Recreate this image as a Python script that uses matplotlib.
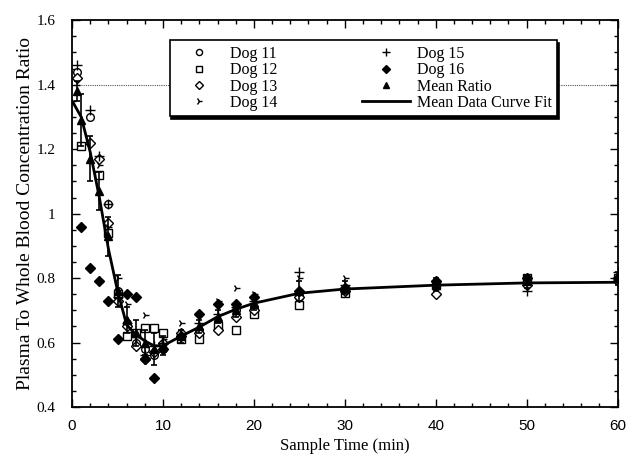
import numpy as np
import matplotlib
matplotlib.use("Agg")
import matplotlib.pyplot as plt
from matplotlib.ticker import MultipleLocator
from matplotlib.lines import Line2D

plt.rcParams['font.family'] = ['Liberation Serif', 'DejaVu Serif']

nan = np.nan
times = [0.5, 1, 2, 3, 4, 5, 6, 7, 8, 9, 10, 12, 14, 16, 18, 20, 25, 30, 40, 50, 60]

dog11 = [1.44, nan, 1.30, nan, 1.03, 0.76, 0.66, 0.60, 0.58, 0.56, 0.58, 0.62, 0.64, 0.66, 0.70, 0.71, 0.74, 0.77, 0.78, 0.79, 0.80]
dog12 = [nan, 1.21, nan, 1.12, 0.94, 0.75, 0.62, 0.63, 0.645, 0.645, 0.63, 0.61, 0.61, 0.65, 0.64, 0.69, 0.715, 0.755, 0.78, 0.80, 0.80]
dog13 = [1.42, nan, 1.22, 1.17, 0.97, 0.73, 0.65, 0.59, 0.55, 0.57, 0.60, 0.63, 0.63, 0.64, 0.68, 0.70, 0.74, 0.76, 0.75, 0.78, 0.79]
dog14 = [nan, nan, nan, 1.15, 0.96, 0.80, 0.72, nan, 0.685, nan, 0.61, 0.66, 0.69, 0.73, 0.77, 0.75, 0.80, 0.80, 0.79, 0.80, 0.81]
dog15 = [1.46, nan, 1.32, 1.18, 1.03, 0.74, 0.66, 0.62, 0.56, 0.59, 0.60, 0.62, 0.66, 0.69, 0.71, 0.73, 0.82, 0.78, 0.79, 0.76, 0.82]
dog16 = [nan, 0.96, 0.83, 0.79, 0.73, 0.61, 0.75, 0.74, 0.55, 0.49, 0.58, 0.62, 0.69, 0.72, 0.72, 0.74, 0.76, 0.77, 0.79, 0.80, 0.80]

mean_ratio = [1.38, 1.29, 1.17, 1.07, 0.93, 0.76, 0.67, 0.63, 0.60, 0.58, 0.59, 0.62, 0.65, 0.68, 0.70, 0.72, 0.76, 0.77, 0.78, 0.79, 0.80]
mean_err = [0.03, 0.08, 0.07, 0.06, 0.06, 0.05, 0.04, 0.04, 0.04, 0.05, 0.03, 0.02, 0.02, 0.02, 0.02, 0.02, 0.03, 0.02, 0.02, 0.02, 0.02]

curve_t = [0, 1, 2, 3, 4, 5, 6, 7, 8, 9, 10, 12, 14, 16, 18, 20, 25, 30, 40, 50, 60]
curve_v = [1.35, 1.30, 1.19, 1.05, 0.89, 0.76, 0.655, 0.625, 0.605, 0.59, 0.59, 0.62, 0.648, 0.68, 0.703, 0.722, 0.753, 0.766, 0.778, 0.785, 0.787]

ref_level = 1.40

fig = plt.figure(figsize=(6.38, 4.55), dpi=100)
ax = fig.add_axes([0.113, 0.1055, 0.855, 0.85])

ax.axhline(ref_level, color='#555555', lw=0.8, ls=(0, (1, 1)), zorder=1)

ms = 5.5
h = []
h.append(ax.plot(times, dog11, ls='none', marker='o', mfc='white', mec='black', ms=ms, mew=1.0, label='Dog 11', zorder=3)[0])
h.append(ax.plot(times, dog12, ls='none', marker='s', mfc='white', mec='black', ms=ms, mew=1.0, label='Dog 12', zorder=3)[0])
h.append(ax.plot(times, dog13, ls='none', marker='D', mfc='white', mec='black', ms=5, mew=1.0, label='Dog 13', zorder=3)[0])
h.append(ax.plot(times, dog14, ls='none', marker='4', color='black', ms=6, mew=1.0, label='Dog 14', zorder=3)[0])
h.append(ax.plot(times, dog15, ls='none', marker='+', color='black', ms=6.5, mew=1.0, label='Dog 15', zorder=3)[0])
h.append(ax.plot(times, dog16, ls='none', marker='D', color='black', ms=5, label='Dog 16', zorder=3)[0])
ax.errorbar(times, mean_ratio, yerr=mean_err, ls='none', marker='^', color='black', ms=6,
            elinewidth=1.2, capsize=2.5, capthick=1.2, zorder=4)
h.append(Line2D([], [], ls='none', marker='^', color='black', ms=6, label='Mean Ratio'))
h.append(ax.plot(curve_t, curve_v, color='black', lw=2.0, label='Mean Data Curve Fit', zorder=5)[0])

ax.set_xlim(0, 60)
ax.set_ylim(0.4, 1.6)
ax.xaxis.set_major_locator(MultipleLocator(10))
ax.xaxis.set_minor_locator(MultipleLocator(2))
ax.yaxis.set_minor_locator(MultipleLocator(0.05))
ax.set_yticks([0.4, 0.6, 0.8, 1.0, 1.2, 1.4, 1.6])
ax.set_yticklabels(['0.4', '0.6', '0.8', '1', '1.2', '1.4', '1.6'])
ax.tick_params(which='both', direction='in', top=True, right=True, width=1.0)
ax.tick_params(which='major', length=6, labelsize=11)
ax.tick_params(which='minor', length=3)
ax.tick_params(axis='y', which='major', pad=12)
ax.tick_params(axis='x', which='major', pad=9)
for lab in ax.get_xticklabels():
    lab.set_family(['Liberation Sans', 'DejaVu Sans'])
for sp in ax.spines.values():
    sp.set_linewidth(1.3)

ax.set_xlabel('Sample Time (min)', fontsize=12, labelpad=3)
ax.set_ylabel('Plasma To Whole Blood Concentration Ratio', fontsize=14, labelpad=2)

leg = ax.legend(handles=h, ncol=2, loc='upper left', mode='expand',
                bbox_to_anchor=(0.179, 0.755, 0.71, 0.193), fontsize=11.5,
                frameon=True, fancybox=False, shadow={'color': 'black', 'alpha': 1.0, 'ox': 1.2, 'oy': -1.8},
                edgecolor='black', handlelength=3.0, columnspacing=1.0, markerscale=0.8,
                labelspacing=0.02, borderpad=0.35, handletextpad=0.4, borderaxespad=0)
leg.get_frame().set_linewidth(1.2)
leg.set_zorder(10)

fig.savefig('out.png', dpi=100)
